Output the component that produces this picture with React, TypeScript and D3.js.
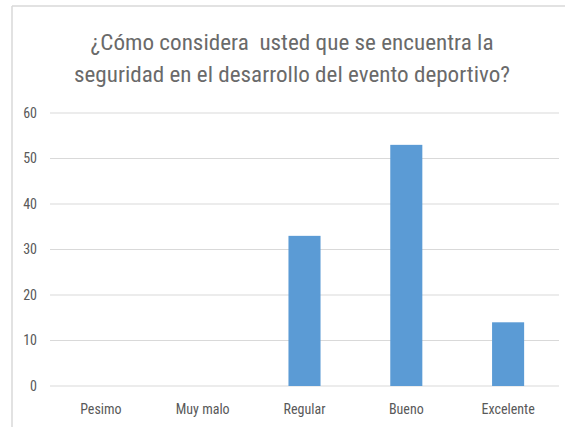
import React from "react";
import * as d3 from "d3";

const categories = ["Pesimo", "Muy malo", "Regular", "Bueno", "Excelente"];
const values = [0, 0, 33, 53, 14];
const yTicks = [0, 10, 20, 30, 40, 50, 60];
const titleLines = [
  "¿Cómo considera  usted que se encuentra la",
  "seguridad en el desarrollo del evento deportivo?",
];

const W = 575;
const H = 427;
const FONT = "'Liberation Sans Narrow', 'Roboto Condensed', 'DejaVu Sans Condensed', Arial, sans-serif";

export default function App() {
  const x = d3.scaleBand<string>().domain(categories).range([50, 559]).padding(0);
  const y = d3.scaleLinear().domain([0, 60]).range([386, 113]);
  const barW = x.bandwidth() * 0.315;

  return (
    <svg width={W} height={H} style={{ position: "absolute", left: 0, top: 0 }}>
      <rect x={0} y={0} width={W} height={H} fill="#fff" />
      <line x1={12} y1={6} x2={565} y2={6} stroke="#d9d9d9" strokeWidth={1.5} />
      <line x1={12} y1={6} x2={12} y2={H} stroke="#d9d9d9" strokeWidth={1.5} />
      {titleLines.map((t, i) => (
        <text
          key={i}
          x={292}
          y={50 + i * 32}
          textAnchor="middle"
          fontFamily={FONT}
          fontSize={22}
          fill="#6a6a6a"
          textLength={i === 0 ? 403 : 436}
          lengthAdjust="spacingAndGlyphs"
          style={{ whiteSpace: "pre" }}
        >
          {t}
        </text>
      ))}
      {yTicks.map((t) => (
        <g key={t}>
          <line x1={50} x2={559} y1={y(t)} y2={y(t)} stroke="#d9d9d9" strokeWidth={1} />
          <text
            x={37}
            y={y(t)}
            dy="0.35em"
            textAnchor="end"
            fontFamily={FONT}
            fontSize={14}
            fill="#595959"
          >
            {t}
          </text>
        </g>
      ))}
      {categories.map((c, i) => {
        const cx = (x(c) as number) + x.bandwidth() / 2;
        return (
          <g key={c}>
            {values[i] > 0 && (
              <rect
                x={cx - barW / 2}
                y={y(values[i])}
                width={barW}
                height={y(0) - y(values[i])}
                fill="#5b9bd5"
              />
            )}
            <text
              x={cx}
              y={414}
              textAnchor="middle"
              fontFamily={FONT}
              fontSize={14}
              fill="#595959"
            >
              {c}
            </text>
          </g>
        );
      })}
    </svg>
  );
}
